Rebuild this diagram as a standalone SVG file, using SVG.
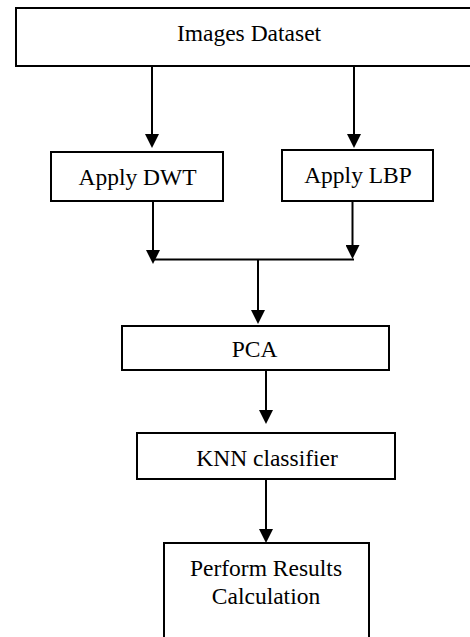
<svg xmlns="http://www.w3.org/2000/svg" width="470" height="637" viewBox="0 0 470 637">
<style>
.box{fill:#fff;stroke:#000;stroke-width:2}
.lbl{font-family:'Liberation Serif','DejaVu Serif',serif;font-size:23.5px;fill:#000;text-anchor:middle}
.ln{fill:none;stroke:#000;stroke-width:2}
</style>
<defs>
<marker id="ah" markerUnits="userSpaceOnUse" markerWidth="14" markerHeight="14" refX="7" refY="7" orient="auto" viewBox="0 0 14 14">
<path d="M0,0 L14,7 L0,14 z" fill="#000"/>
</marker>
</defs>
<rect width="470" height="637" fill="#fff"/>
<g id="connectors">
<path class="ln" d="M152,67 V141" marker-end="url(#ah)"/>
<path class="ln" d="M354,67 V141" marker-end="url(#ah)"/>
<path class="ln" d="M153,201 V257" marker-end="url(#ah)"/>
<path class="ln" d="M352.5,201 V252" marker-end="url(#ah)"/>
<path class="ln" d="M152,259.5 H354"/>
<path class="ln" d="M258,259.5 V317" marker-end="url(#ah)"/>
<path class="ln" d="M266,370 V417" marker-end="url(#ah)"/>
<path class="ln" d="M266,479 V536" marker-end="url(#ah)"/>
</g>
<g id="images-dataset">
<rect class="box" x="16" y="8" width="470" height="58"/>
<text class="lbl" x="249" y="41" font-family="Liberation Serif, serif">Images Dataset</text>
</g>
<g id="apply-dwt">
<rect class="box" x="51" y="152" width="172" height="49"/>
<text class="lbl" x="137.5" y="185" font-family="Liberation Serif, serif">Apply DWT</text>
</g>
<g id="apply-lbp">
<rect class="box" x="282" y="150" width="151" height="51"/>
<text class="lbl" x="358" y="183" font-family="Liberation Serif, serif">Apply LBP</text>
</g>
<g id="pca">
<rect class="box" x="122" y="326" width="267" height="44"/>
<text class="lbl" x="254.5" y="357" font-family="Liberation Serif, serif">PCA</text>
</g>
<g id="knn">
<rect class="box" x="137" y="433" width="258" height="46"/>
<text class="lbl" x="267" y="466" font-family="Liberation Serif, serif">KNN classifier</text>
</g>
<g id="perform-results">
<rect class="box" x="164" y="543" width="205" height="110"/>
<text class="lbl" x="266" y="576" font-family="Liberation Serif, serif">Perform Results</text>
<text class="lbl" x="266" y="604" font-family="Liberation Serif, serif">Calculation</text>
</g>
</svg>
